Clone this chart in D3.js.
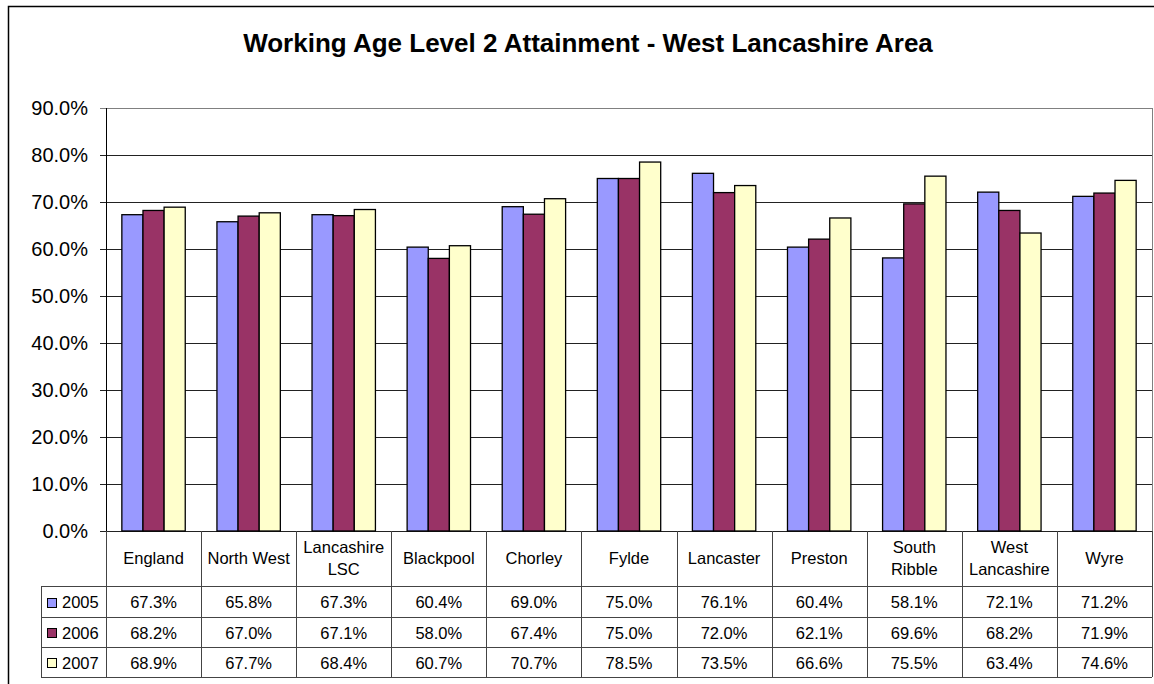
<!DOCTYPE html>
<html lang="en">

<head>
    <meta charset="UTF-8">
    <title>Working Age Level 2 Attainment</title>
    <script src="https://d3js.org/d3.v7.min.js"></script>
    <style>
        body { margin: 0; background: #fff; }
        text { font-family: "Liberation Sans", Arial, sans-serif; fill: #000; }
    </style>
</head>

<body>
    <svg class="svgs" height="684" width="1154"></svg>

    <script>
        const areas = ['England', 'North West', 'Lancashire LSC', 'Blackpool', 'Chorley', 'Fylde',
            'Lancaster', 'Preston', 'South Ribble', 'West Lancashire', 'Wyre'];
        const areaLines = [['England'], ['North West'], ['Lancashire', 'LSC'], ['Blackpool'], ['Chorley'], ['Fylde'],
            ['Lancaster'], ['Preston'], ['South', 'Ribble'], ['West', 'Lancashire'], ['Wyre']];
        const years = ['2005', '2006', '2007'];
        const v2005 = [67.3, 65.8, 67.3, 60.4, 69.0, 75.0, 76.1, 60.4, 58.1, 72.1, 71.2];
        const v2006 = [68.2, 67.0, 67.1, 58.0, 67.4, 75.0, 72.0, 62.1, 69.6, 68.2, 71.9];
        const v2007 = [68.9, 67.7, 68.4, 60.7, 70.7, 78.5, 73.5, 66.6, 75.5, 63.4, 74.6];
        const yTicks = [0, 10, 20, 30, 40, 50, 60, 70, 80, 90];
        const colors = ['#9999FF', '#993366', '#FFFFCC'];

        const svg = d3.select('.svgs');
        const series = [v2005, v2006, v2007];

        const plot = { left: 106, right: 1152, top: 108, bottom: 531 };
        const legendLeft = 41;
        const headerBottom = 586;
        const rowEdges = [586, 617, 647, 677];

        // outer chart frame (runs off the right/bottom of the picture)
        svg.append('rect')
            .attr('x', 8.5).attr('y', 6.5)
            .attr('width', 1170).attr('height', 700)
            .attr('fill', '#fff')
            .attr('stroke', '#000')
            .attr('stroke-width', 1.5);

        svg.append('text')
            .attr('x', 588).attr('y', 52)
            .attr('text-anchor', 'middle')
            .attr('font-size', '26px')
            .attr('font-weight', 'bold')
            .text('Working Age Level 2 Attainment - West Lancashire Area');

        const xScale = d3.scaleBand()
            .domain(areas)
            .range([plot.left, plot.right]);

        const bw = xScale.bandwidth() / 4.5;
        const xInner = d3.scaleBand()
            .domain(years)
            .range([bw * 0.75, bw * 3.75]);

        const yScale = d3.scaleLinear()
            .domain([0, 90])
            .range([plot.bottom, plot.top]);

        // gridlines
        svg.append('g')
            .selectAll('line')
            .data(yTicks)
            .join('line')
            .attr('x1', plot.left - 6)
            .attr('x2', plot.right)
            .attr('y1', d => Math.round(yScale(d)) + 0.5)
            .attr('y2', d => Math.round(yScale(d)) + 0.5)
            .attr('stroke', d => d === 90 ? '#808080' : '#222')
            .attr('stroke-width', 1);

        // right border of plot area
        svg.append('line')
            .attr('x1', plot.right + 0.5).attr('x2', plot.right + 0.5)
            .attr('y1', plot.top).attr('y2', plot.bottom)
            .attr('stroke', '#808080');

        // y labels
        svg.append('g')
            .selectAll('text')
            .data(yTicks)
            .join('text')
            .attr('x', 88)
            .attr('y', d => yScale(d))
            .attr('dy', '0.35em')
            .attr('text-anchor', 'end')
            .attr('font-size', '20px')
            .text(d => d3.format('.1f')(d) + '%');

        // bars
        const groups = svg.append('g')
            .selectAll('g')
            .data(areas)
            .join('g')
            .attr('transform', d => `translate(${xScale(d)},0)`);

        groups.selectAll('rect')
            .data((d, i) => years.map((y, k) => ({ year: y, k: k, value: series[k][i] })))
            .join('rect')
            .attr('x', d => xInner(d.year))
            .attr('y', d => yScale(d.value))
            .attr('width', xInner.bandwidth())
            .attr('height', d => plot.bottom - yScale(d.value))
            .attr('fill', d => colors[d.k])
            .attr('stroke', '#000')
            .attr('stroke-width', 1.3);

        // y axis line
        svg.append('line')
            .attr('x1', plot.left + 0.5).attr('x2', plot.left + 0.5)
            .attr('y1', plot.top).attr('y2', plot.bottom)
            .attr('stroke', '#000');

        // data table
        const table = svg.append('g');
        const lineColor = '#444';
        const colEdges = areas.map(a => xScale(a)).concat([plot.right]);

        table.selectAll('line.v')
            .data(colEdges)
            .join('line')
            .attr('class', 'v')
            .attr('x1', d => Math.round(d) + 0.5)
            .attr('x2', d => Math.round(d) + 0.5)
            .attr('y1', plot.bottom)
            .attr('y2', rowEdges[3])
            .attr('stroke', lineColor);

        table.selectAll('line.h')
            .data(rowEdges)
            .join('line')
            .attr('class', 'h')
            .attr('x1', legendLeft)
            .attr('x2', plot.right)
            .attr('y1', d => d + 0.5)
            .attr('y2', d => d + 0.5)
            .attr('stroke', lineColor);

        table.append('line')
            .attr('x1', legendLeft + 0.5).attr('x2', legendLeft + 0.5)
            .attr('y1', headerBottom).attr('y2', rowEdges[3])
            .attr('stroke', lineColor);

        // category headers
        const cx = d => xScale(d) + xScale.bandwidth() / 2;
        table.selectAll('text.cat')
            .data(areas)
            .join('text')
            .attr('class', 'cat')
            .attr('x', cx)
            .attr('text-anchor', 'middle')
            .attr('font-size', '16.5px')
            .each(function (d, i) {
                const lines = areaLines[i];
                const t = d3.select(this);
                const y0 = (plot.bottom + headerBottom) / 2 - (lines.length - 1) * 11;
                lines.forEach((l, j) => {
                    t.append('tspan')
                        .attr('x', cx(d))
                        .attr('y', y0 + j * 22)
                        .attr('dy', '0.35em')
                        .text(l);
                });
            });

        // value rows with legend keys
        years.forEach((yr, k) => {
            const yc = (rowEdges[k] + rowEdges[k + 1]) / 2 + 1;
            table.append('rect')
                .attr('x', 47.5).attr('y', Math.round(yc - 5) + 0.5)
                .attr('width', 9).attr('height', 9)
                .attr('fill', colors[k])
                .attr('stroke', '#000');
            table.append('text')
                .attr('x', 62).attr('y', yc)
                .attr('dy', '0.35em')
                .attr('font-size', '16.5px')
                .text(yr);
            table.selectAll('text.val' + yr)
                .data(series[k])
                .join('text')
                .attr('class', 'val' + yr)
                .attr('x', (d, i) => cx(areas[i]))
                .attr('y', yc)
                .attr('dy', '0.35em')
                .attr('text-anchor', 'middle')
                .attr('font-size', '16.5px')
                .text(d => d3.format('.1f')(d) + '%');
        });
    </script>
</body>

</html>
